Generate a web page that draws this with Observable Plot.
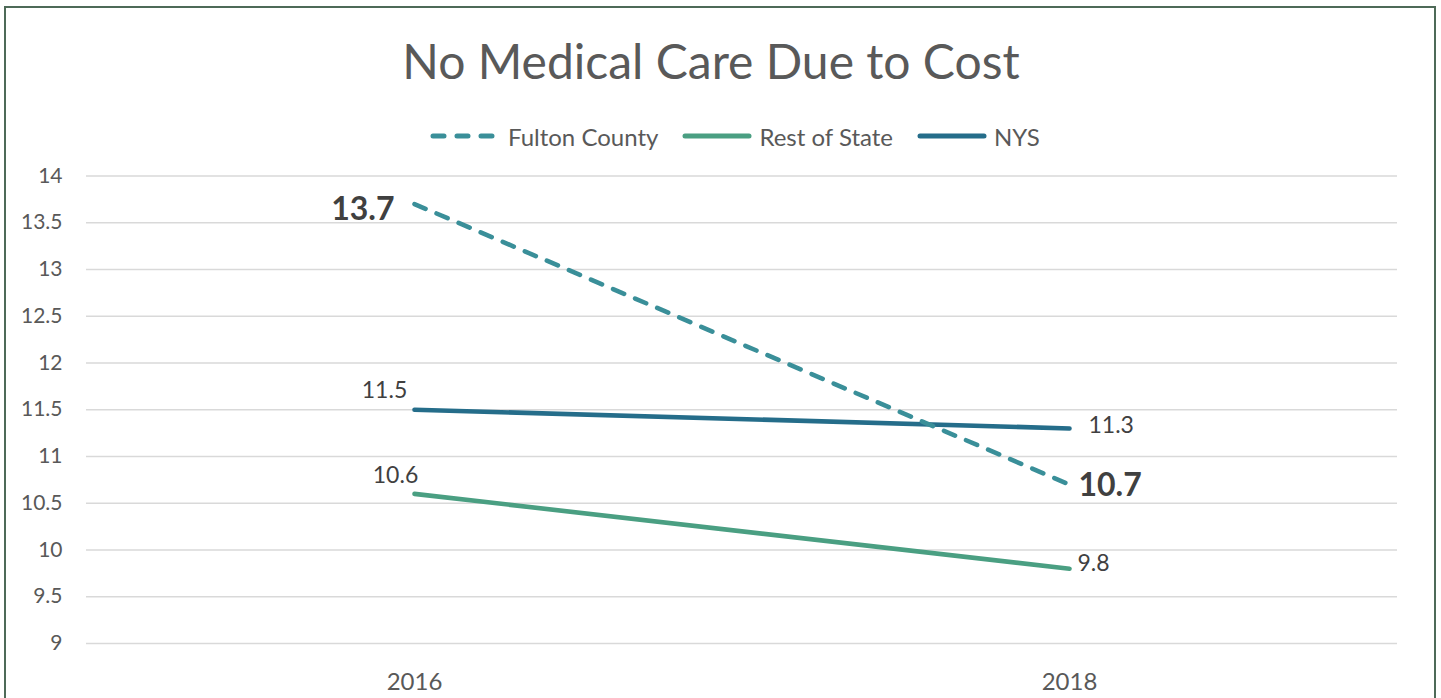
<!DOCTYPE html>
<html>
<head>
<meta charset="utf-8">
<script src="https://cdn.jsdelivr.net/npm/d3@7"></script>
<script src="https://cdn.jsdelivr.net/npm/@observablehq/plot@0.6"></script>
<style>
  html, body { margin: 0; padding: 0; background: #fff; overflow: hidden; }
  body { width: 1441px; height: 698px; position: relative; font-family: Lato, "Open Sans", sans-serif; }
  #frame { position: absolute; left: 4px; top: 6px; width: 1428px; height: 720px; border: 2px solid #4e6a58; }
  #title { position: absolute; left: 0; top: 31px; width: 1422px; text-align: center; font-size: 48px; color: #595959; line-height: 60px; }
  #legend { position: absolute; left: 430px; top: 121px; display: flex; align-items: center; font-size: 24px; color: #595959; height: 30px; }
  #legend .item { display: flex; align-items: center; margin-right: 24px; }
  #legend svg { margin-right: 7px; }
  #chart { position: absolute; left: 0; top: 150px; }
</style>
</head>
<body>
<div id="frame"></div>
<div id="title">No Medical Care Due to Cost</div>
<div id="legend"></div>
<div id="chart"></div>
<script>
const years = ["2016", "2018"];
const fulton = [13.7, 10.7];
const restOfState = [10.6, 9.8];
const nys = [11.5, 11.3];
const seriesNames = ["Fulton County", "Rest of State", "NYS"];
const seriesColors = ["#3a8f99", "#4a9f82", "#256d8a"];
const yTicks = [9, 9.5, 10, 10.5, 11, 11.5, 12, 12.5, 13, 13.5, 14];

const seriesValues = [fulton, restOfState, nys];
const rows = [];
seriesNames.forEach((s, i) => years.forEach((y, j) => rows.push({series: s, year: y, value: seriesValues[i][j]})));
const colorOf = Object.fromEntries(seriesNames.map((s, i) => [s, seriesColors[i]]));
const get = (s, y) => rows.find(d => d.series === s && d.year === y);

// Legend (HTML)
const legend = document.getElementById("legend");
seriesNames.forEach((s, i) => {
  const item = document.createElement("div");
  item.className = "item";
  const dashed = i === 0;
  item.innerHTML = `<svg width="70" height="10"><line x1="3" y1="5" x2="${dashed ? 63 : 67}" y2="5" stroke="${seriesColors[i]}" stroke-width="5" stroke-linecap="round" ${dashed ? 'stroke-dasharray="11,13"' : ''}/></svg><span>${s}</span>`;
  if (dashed) item.querySelector("svg").style.marginRight = "8px";
  legend.appendChild(item);
});

const labelStyle = {fontFamily: "Lato, sans-serif", fill: "#404040"};

const chart = Plot.plot({
  width: 1441,
  height: 548,
  marginLeft: 86,
  marginRight: 44,
  marginTop: 25.5,
  marginBottom: 55,
  style: {fontFamily: "Lato, sans-serif", color: "#595959", background: "transparent"},
  x: {type: "point", domain: years, padding: 0.5, label: null},
  y: {domain: [9, 14], label: null},
  marks: [
    Plot.ruleY(yTicks, {stroke: "#d9d9d9", strokeWidth: 1.6}),
    Plot.axisY(yTicks, {tickSize: 0, tickPadding: 24, fontSize: 21, label: null, fill: "#595959", tickFormat: d => String(d)}),
    Plot.axisX(years, {tickSize: 0, tickPadding: 29, fontSize: 24, label: null, fill: "#595959"}),
    Plot.line(rows.filter(d => d.series === "Rest of State"), {x: "year", y: "value", stroke: colorOf["Rest of State"], strokeWidth: 4.6, strokeLinecap: "round"}),
    Plot.line(rows.filter(d => d.series === "NYS"), {x: "year", y: "value", stroke: colorOf["NYS"], strokeWidth: 4.6, strokeLinecap: "round"}),
    Plot.line(rows.filter(d => d.series === "Fulton County"), {x: "year", y: "value", stroke: colorOf["Fulton County"], strokeWidth: 4.6, strokeLinecap: "round", strokeDasharray: "12,12"}),
    // Data labels
    Plot.text([get("Fulton County", "2016")], {x: "year", y: "value", text: d => d.value.toFixed(1), textAnchor: "end", dx: -20, dy: 6, fontSize: 32, fontWeight: "bold", ...labelStyle}),
    Plot.text([get("Fulton County", "2018")], {x: "year", y: "value", text: d => d.value.toFixed(1), textAnchor: "start", dx: 9, dy: 1, fontSize: 32, fontWeight: "bold", ...labelStyle}),
    Plot.text([get("NYS", "2016")], {x: "year", y: "value", text: d => d.value.toFixed(1), textAnchor: "middle", dx: -30, dy: -19, fontSize: 23, ...labelStyle}),
    Plot.text([get("NYS", "2018")], {x: "year", y: "value", text: d => d.value.toFixed(1), textAnchor: "start", dx: 19, dy: -3, fontSize: 23, ...labelStyle}),
    Plot.text([get("Rest of State", "2016")], {x: "year", y: "value", text: d => d.value.toFixed(1), textAnchor: "middle", dx: -19, dy: -18, fontSize: 23, ...labelStyle}),
    Plot.text([get("Rest of State", "2018")], {x: "year", y: "value", text: d => d.value.toFixed(1), textAnchor: "start", dx: 8, dy: -5, fontSize: 23, ...labelStyle})
  ]
});
document.getElementById("chart").appendChild(chart);
</script>
</body>
</html>
